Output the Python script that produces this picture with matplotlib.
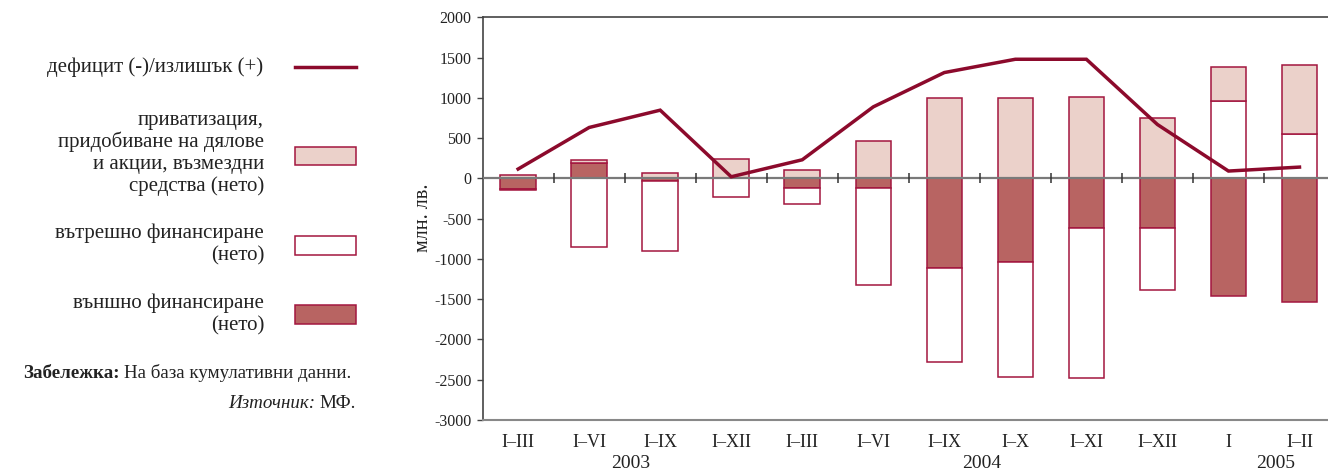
import numpy as np
import matplotlib
matplotlib.use("Agg")
import matplotlib.pyplot as plt
from matplotlib.transforms import blended_transform_factory

plt.rcParams['font.family'] = ['Liberation Serif', 'DejaVu Serif']

# ---- data ----
periods = ["I–III", "I–VI", "I–IX", "I–XII", "I–III", "I–VI", "I–IX",
           "I–X", "I–XI", "I–XII", "I", "I–II"]
years = ["2003", "2004", "2005"]
balance = [116, 632, 847, 20, 231, 888, 1314, 1479, 1479, 669, 91, 140]
privatization = [45, 45, 70, 244, 103, 459, 996, 996, 1008, 748, 421, 859]
domestic = [-20, -847, -868, -227, -207, -1210, -1169, -1429, -1863, -764, 962, 549]
external = [-128, 186, -37, 0, -116, -116, -1107, -1033, -620, -620, -1462, -1532]

legend_line = "дефицит (-)/излишък (+)"
legend_priv = ["приватизация,", "придобиване на дялове", "и акции, възмездни", "средства (нето)"]
legend_dom = ["вътрешно финансиране", "(нето)"]
legend_ext = ["външно финансиране", "(нето)"]

# ---- styles ----
LINE_C = '#8C0A2C'
EDGE_C = '#A3163F'
DARK_C = '#B86462'
LIGHT_C = '#EBD1CA'
TXT_C = '#222222'

W, H = 1328, 472
fig = plt.figure(figsize=(W / 100, H / 100), dpi=100)

x0, x1 = 482.6, 1335.0
y0, y1 = 17.3, 420.0
ax = fig.add_axes([x0 / W, 1 - y1 / H, (x1 - x0) / W, (y1 - y0) / H])

x = np.arange(len(periods))
bw = 0.5

# stacking: external, domestic, privatization (positive up, negative down)
pos_base = np.zeros(len(x))
neg_base = np.zeros(len(x))
series = [(external, DARK_C), (domestic, 'white'), (privatization, LIGHT_C)]
for vals, col in series:
    v = np.array(vals, dtype=float)
    base = np.where(v >= 0, pos_base, neg_base)
    ax.bar(x, v, bw, bottom=base, color=col, edgecolor=EDGE_C, linewidth=1.1, zorder=2)
    pos_base = pos_base + np.where(v > 0, v, 0)
    neg_base = neg_base + np.where(v < 0, v, 0)

# zero line with small category-boundary ticks
ax.axhline(0, color='#7a7a7a', lw=1.6, zorder=3)
bx = np.arange(0.5, len(x) - 0.5, 1.0)
ax.plot(bx, np.zeros_like(bx), ls='none', marker='|', ms=7, mew=1.1,
        color='#333333', zorder=3)

ax.plot(x, balance, color=LINE_C, lw=2.5, zorder=4, solid_joinstyle='miter')

ax.set_xlim(-0.5, len(x) - 0.5)
ax.set_ylim(-3000, 2000)
ax.set_yticks(np.arange(-3000, 2001, 500))
ax.set_yticklabels([str(v) for v in np.arange(-3000, 2001, 500)])
ax.set_xticks(x)
ax.set_xticklabels(periods)
ax.tick_params(axis='x', length=0, pad=10, labelsize=13, labelcolor=TXT_C)
ax.tick_params(axis='y', length=4, width=1, color='#444444', direction='out',
               pad=4, labelsize=11.5, labelcolor=TXT_C)

ax.spines['right'].set_visible(False)
ax.spines['left'].set_color('#444444')
ax.spines['top'].set_color('#444444')
ax.spines['bottom'].set_color('#888888')
ax.spines['bottom'].set_linewidth(1.5)
ax.spines['left'].set_linewidth(1.2)
ax.spines['top'].set_linewidth(1.2)

# year labels
tr = blended_transform_factory(ax.transData, fig.transFigure)
for xp, yr in zip([1.58, 6.53, 10.67], years):
    ax.text(xp, 1 - 463 / H, yr, transform=tr, ha='center', va='center',
            fontsize=14, color=TXT_C)

fig.text(423 / W, 1 - 218 / H, "млн. лв.", rotation=90, ha='center', va='center',
         fontsize=14.5, color=TXT_C)

# ---- legend on the left ----
LFS = 15


def lines(txts, baselines, xr=264):
    for t, b in zip(txts, baselines):
        fig.text(xr / W, 1 - b / H, t, ha='right', va='baseline', fontsize=LFS, color=TXT_C)


lines([legend_line], [72], xr=263)
fig.add_artist(plt.Line2D([295 / W, 356 / W], [1 - 66.7 / H] * 2, color=LINE_C, lw=2.5))

lines(legend_priv, [124.5, 147, 169.5, 191.5])
fig.add_artist(plt.Rectangle((295 / W, 1 - 165 / H), 61 / W, 18.5 / H,
                             facecolor=LIGHT_C, edgecolor=EDGE_C, lw=1.1))

lines(legend_dom, [238, 260])
fig.add_artist(plt.Rectangle((295 / W, 1 - 255.5 / H), 61 / W, 19 / H,
                             facecolor='white', edgecolor=EDGE_C, lw=1.1))

lines(legend_ext, [308, 330])
fig.add_artist(plt.Rectangle((295 / W, 1 - 324 / H), 61 / W, 19 / H,
                             facecolor=DARK_C, edgecolor=EDGE_C, lw=1.1))

NFS = 13.7
t1 = fig.text(23 / W, 1 - 377.5 / H, "Забележка:", ha='left', va='baseline',
              fontsize=NFS, fontweight='bold', color=TXT_C)
fig.canvas.draw()
bb = t1.get_window_extent()
fig.text((bb.x1 + 4) / W, 1 - 377.5 / H, "На база кумулативни данни.", ha='left',
         va='baseline', fontsize=NFS, color=TXT_C)

t2 = fig.text(356 / W, 1 - 408 / H, "МФ.", ha='right', va='baseline',
              fontsize=NFS, color=TXT_C)
fig.canvas.draw()
bb2 = t2.get_window_extent()
fig.text((bb2.x0 - 4) / W, 1 - 408 / H, "Източник:", ha='right', va='baseline',
         fontsize=NFS, fontstyle='italic', color=TXT_C)

fig.savefig("out.png", dpi=100)
